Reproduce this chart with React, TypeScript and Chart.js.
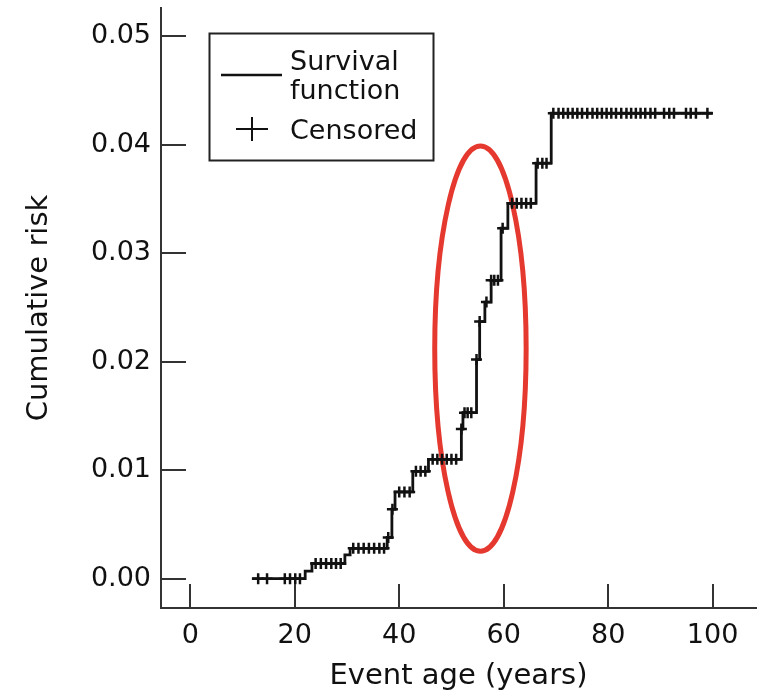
import React, { useEffect, useRef } from 'react';
import { Chart, registerables } from 'chart.js';

Chart.register(...registerables);

// ---------- data ----------
const xTicks = [0, 20, 40, 60, 80, 100];
const yTicks = [0, 0.01, 0.02, 0.03, 0.04, 0.05];

// Kaplan-Meier cumulative risk: step at each event age
const survivalAges = [11.8, 22.0, 23.3, 29.6, 30.6, 37.7, 38.6, 39.2, 42.6, 45.6, 51.9, 52.2, 54.8, 55.4, 56.4, 57.6, 59.5, 60.8, 66.2, 69.1, 100.0];
const survivalRisk = [0, 0.0007, 0.0014, 0.0022, 0.0028, 0.0038, 0.0064, 0.0080, 0.0099, 0.0110, 0.0138, 0.0153, 0.0202, 0.0237, 0.0255, 0.0275, 0.0323, 0.0346, 0.0383, 0.0429, 0.0429];

// censored observations (ages)
const censoredAges = [
  13.0, 14.7, 18.1, 19.1, 20.1, 21.0,
  24.0, 25.0, 26.0, 27.0, 27.9, 28.8,
  31.2, 32.2, 33.2, 34.2, 35.2, 36.2, 37.1, 37.9, 38.7,
  40.0, 41.0, 42.0, 43.2, 44.1, 45.0,
  46.4, 47.3, 48.2, 49.1, 50.0, 50.9, 51.9,
  52.5, 53.1, 53.8, 54.8, 55.4, 56.7, 57.6, 58.2, 58.9, 59.8,
  61.6, 62.5, 63.4, 64.3, 65.2, 66.5, 67.4, 68.2,
  69.5, 70.5, 71.4, 72.3, 73.2, 74.1, 75.0, 76.0, 77.0, 77.9, 78.8,
  79.7, 80.6, 81.5, 82.5, 83.5, 84.4, 85.3, 86.2, 87.1, 88.1, 89.0,
  90.7, 91.7, 92.6, 94.9, 95.8, 96.8, 99.0,
];

// highlighted region (red ellipse), in data units
const highlightCenter = { age: 55.55, risk: 0.0212 };
const highlightRadius = { age: 8.75, risk: 0.01867 };

// ---------- helpers ----------
const riskAt = (age: number) => {
  let r = 0;
  for (let i = 0; i < survivalAges.length; i++) {
    if (survivalAges[i] <= age + 1e-9) r = survivalRisk[i];
  }
  return r;
};

const FONT = "'DejaVu Sans', sans-serif";
const INK = '#111';

const innerTicksPlugin = {
  id: 'innerTicks',
  afterDraw(chart: any) {
    const { ctx, chartArea, scales } = chart;
    ctx.save();
    ctx.strokeStyle = '#333';
    ctx.lineWidth = 2;
    ctx.beginPath();
    for (const v of yTicks) {
      const y = Math.round(scales.y.getPixelForValue(v));
      ctx.moveTo(chartArea.left, y);
      ctx.lineTo(chartArea.left + 25, y);
    }
    for (const v of xTicks) {
      const x = Math.round(scales.x.getPixelForValue(v));
      ctx.moveTo(x, chartArea.bottom);
      ctx.lineTo(x, chartArea.bottom - 24);
    }
    ctx.stroke();
    ctx.restore();
  },
};

const ellipsePlugin = {
  id: 'highlightEllipse',
  beforeDatasetsDraw(chart: any) {
    const { ctx, scales } = chart;
    const cx = scales.x.getPixelForValue(highlightCenter.age);
    const cy = scales.y.getPixelForValue(highlightCenter.risk);
    const rx = scales.x.getPixelForValue(highlightCenter.age + highlightRadius.age) - cx;
    const ry = cy - scales.y.getPixelForValue(highlightCenter.risk + highlightRadius.risk);
    ctx.save();
    ctx.strokeStyle = '#e5392f';
    ctx.lineWidth = 5;
    ctx.beginPath();
    ctx.ellipse(cx, cy, rx, ry, 0, 0, Math.PI * 2);
    ctx.stroke();
    ctx.restore();
  },
};

const legendBoxPlugin = {
  id: 'legendBox',
  afterDraw(chart: any) {
    const { ctx } = chart;
    const ds = chart.data.datasets;
    ctx.save();
    ctx.strokeStyle = '#222';
    ctx.lineWidth = 2;
    ctx.strokeRect(209.5, 33.5, 224, 127);
    // line sample
    ctx.strokeStyle = ds[0].borderColor;
    ctx.lineWidth = 2.5;
    ctx.beginPath();
    ctx.moveTo(221, 75);
    ctx.lineTo(282, 75);
    ctx.stroke();
    // cross sample
    ctx.strokeStyle = ds[1].borderColor;
    ctx.lineWidth = 2;
    ctx.beginPath();
    ctx.moveTo(236, 129);
    ctx.lineTo(268, 129);
    ctx.moveTo(252, 117);
    ctx.lineTo(252, 141);
    ctx.stroke();
    // labels
    ctx.fillStyle = INK;
    ctx.font = `27px ${FONT}`;
    ctx.textBaseline = 'alphabetic';
    ctx.textAlign = 'left';
    ctx.fillText(ds[0].label[0], 290, 70);
    ctx.fillText(ds[0].label[1], 290, 99);
    ctx.fillText(ds[1].label, 290, 139);
    ctx.restore();
  },
};

export default function App() {
  const ref = useRef<HTMLCanvasElement>(null);

  useEffect(() => {
    if (!ref.current) return;
    const lineData = survivalAges.map((a, i) => ({ x: a, y: survivalRisk[i] }));
    const censorData = censoredAges.map((a) => ({ x: a, y: riskAt(a) }));

    const chart = new Chart(ref.current, {
      type: 'line',
      data: {
        datasets: [
          {
            label: ['Survival', 'function'] as any,
            data: lineData,
            stepped: 'before',
            borderColor: '#111',
            borderWidth: 2.8,
            pointRadius: 0,
            fill: false,
          } as any,
          {
            type: 'scatter',
            label: 'Censored',
            data: censorData,
            pointStyle: 'cross',
            pointRadius: 5.5,
            pointBorderWidth: 2.5,
            borderColor: '#111',
            backgroundColor: '#111',
            showLine: false,
          } as any,
        ],
      },
      options: {
        responsive: false,
        devicePixelRatio: 1,
        animation: false,
        layout: { padding: { left: 0, top: 8, right: 7, bottom: 0 } },
        plugins: {
          legend: { display: false },
          tooltip: { enabled: false },
        },
        scales: {
          x: {
            type: 'linear',
            min: -5.6,
            max: 108.3,
            afterBuildTicks: (s: any) => {
              s.ticks = xTicks.map((v) => ({ value: v }));
            },
            afterFit: (s: any) => {
              s.height = 90;
              s.paddingLeft = 0;
              s.paddingRight = 0;
            },
            grid: { display: false, drawTicks: false },
            border: { display: true, color: '#333', width: 2 },
            ticks: {
              padding: 12,
              color: INK,
              font: { family: FONT, size: 27 },
              maxRotation: 0,
              callback: (v: any) => String(v),
            },
            title: {
              display: true,
              text: 'Event age (years)',
              color: INK,
              font: { family: FONT, size: 29 },
              padding: { top: 0, bottom: 4 },
            },
          },
          y: {
            type: 'linear',
            min: -0.0027,
            max: 0.0526,
            afterBuildTicks: (s: any) => {
              s.ticks = yTicks.map((v) => ({ value: v }));
            },
            afterFit: (s: any) => {
              s.width = 161;
              s.paddingTop = 0;
              s.paddingBottom = 0;
            },
            grid: { display: false, drawTicks: false },
            border: { display: true, color: '#333', width: 2 },
            ticks: {
              padding: 10,
              color: INK,
              font: { family: FONT, size: 27 },
              callback: (v: any) => Number(v).toFixed(2),
            },
            title: {
              display: true,
              text: 'Cumulative risk',
              color: INK,
              font: { family: FONT, size: 29 },
              padding: { top: 22, bottom: 0 },
            },
          },
        },
      },
      plugins: [ellipsePlugin, innerTicksPlugin, legendBoxPlugin],
    });
    return () => chart.destroy();
  }, []);

  return (
    <div style={{ position: 'absolute', left: 0, top: 0, width: 764, height: 698, background: '#fff' }}>
      <canvas ref={ref} width={764} height={698} style={{ display: 'block' }} />
    </div>
  );
}
